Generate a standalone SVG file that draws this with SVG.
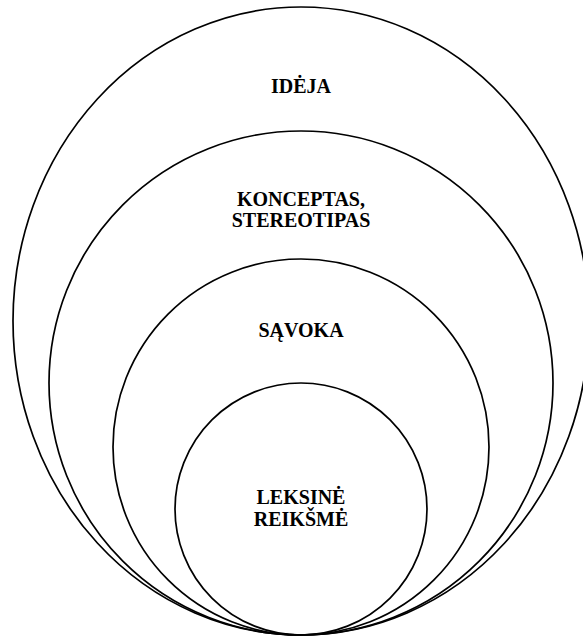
<svg xmlns="http://www.w3.org/2000/svg" width="583" height="640" viewBox="0 0 583 640">
  <style>
    .ring { fill: none; stroke: #000; stroke-width: 1.7; }
    .lbl { font-family: "Liberation Serif", "Times New Roman", serif; font-weight: bold; font-size: 20px; fill: #000; text-anchor: middle; }
  </style>
  <rect width="583" height="640" fill="#fff"/>
  <!-- four nested rings, all touching at the bottom point (301, 635) -->
  <g id="ideja">
    <ellipse class="ring" cx="301" cy="321" rx="288" ry="314"/>
    <text class="lbl" x="301" y="93">IDĖJA</text>
  </g>
  <g id="konceptas">
    <circle class="ring" cx="301" cy="383" r="252"/>
    <text class="lbl" x="301" y="206">KONCEPTAS,</text>
    <text class="lbl" x="301" y="227">STEREOTIPAS</text>
  </g>
  <g id="savoka">
    <circle class="ring" cx="301" cy="447" r="188"/>
    <text class="lbl" x="301" y="337">SĄVOKA</text>
  </g>
  <g id="leksine-reiksme">
    <circle class="ring" cx="301" cy="509" r="126"/>
    <text class="lbl" x="301" y="504">LEKSINĖ</text>
    <text class="lbl" x="301" y="526">REIKŠMĖ</text>
  </g>
  <g id="connectors"/>
</svg>
